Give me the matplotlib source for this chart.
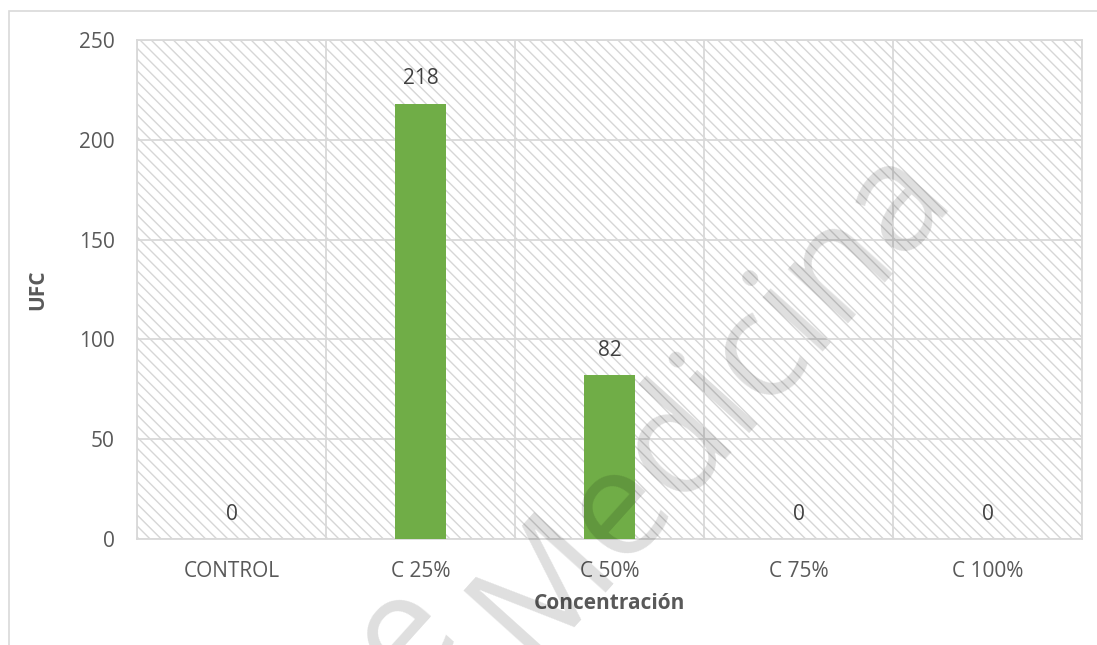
import matplotlib.pyplot as plt
from matplotlib.patches import Rectangle
import numpy as np

categories = ['CONTROL', 'C 25%', 'C 50%', 'C 75%', 'C 100%']
ufc = [0, 218, 82, 0, 0]
yticks = [0, 50, 100, 150, 200, 250]

plt.rcParams['font.family'] = ['Open Sans', 'DejaVu Sans']
plt.rcParams['hatch.linewidth'] = 1.0

fig = plt.figure(figsize=(10.97, 6.45), dpi=100)
ax = fig.add_axes([137/1097, 1-539/645, (1082-137)/1097, (539-40)/645])

# outer chart frame (only top and left show in the picture)
fig.patches.append(Rectangle((9/1097, -0.05), 1.2, 1-11/645+0.05, transform=fig.transFigure,
                             fill=False, edgecolor='#d9d9d9', linewidth=1.2))

# hatched plot area
ax.add_patch(Rectangle((0, 0), 1, 1, transform=ax.transAxes, facecolor='none',
                       edgecolor='#d6d6d6', hatch='\\\\\\', linewidth=0, zorder=0))

x = np.arange(len(categories))
bars = ax.bar(x, ufc, width=0.27, color='#70ad47', zorder=3)

for xi, v in zip(x, ufc):
    ax.annotate(str(v), (xi, v), xytext=(0, 25), textcoords='offset pixels',
                ha='center', va='center', fontsize=15, color='#404040')

ax.set_xlim(-0.5, len(categories) - 0.5)
ax.set_ylim(0, 250)
ax.set_yticks(yticks)
ax.set_xticks(x)
ax.set_xticklabels(categories)
ax.set_xticks(np.arange(len(categories) + 1) - 0.5, minor=True)
ax.tick_params(axis='both', which='both', length=0, labelsize=15, colors='#595959')
ax.tick_params(axis='x', pad=16)
ax.tick_params(axis='y', pad=16)
ax.grid(True, axis='y', color='#d9d9d9', linewidth=1.3, zorder=1)
ax.grid(True, axis='x', which='minor', color='#d9d9d9', linewidth=1.3, zorder=1)
ax.set_axisbelow(True)
for s in ax.spines.values():
    s.set_color('#d9d9d9')
    s.set_linewidth(1.3)

ax.set_xlabel('Concentración', fontsize=15, fontweight='bold', color='#595959', labelpad=8)
ax.set_ylabel('UFC', fontsize=15, fontweight='bold', color='#595959', labelpad=22)

# watermark
fig.text(712/1097, 1-400/645, 'Medicina', fontsize=108, color='black', alpha=0.13,
         rotation=48, ha='center', va='center', zorder=10)
fig.text(405/1097, 1-635/645, 'e', fontsize=108, color='black', alpha=0.13,
         rotation=48, ha='center', va='center', zorder=10)

fig.savefig('out.png', dpi=100)
